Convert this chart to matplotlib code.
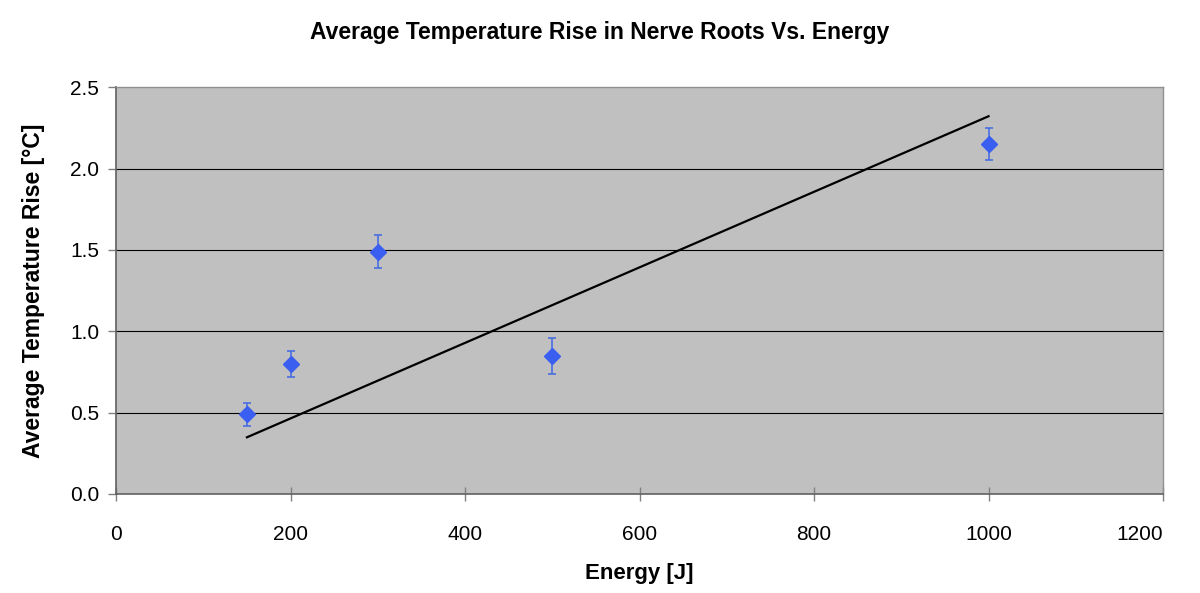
import numpy as np
import matplotlib
matplotlib.use("Agg")
import matplotlib.pyplot as plt

plt.rcParams['font.family'] = ['Liberation Sans', 'DejaVu Sans']

energy = [150, 200, 300, 500, 1000]
temp_rise = [0.49, 0.80, 1.49, 0.85, 2.15]
err = [0.07, 0.08, 0.10, 0.11, 0.10]
x_ticks = [0, 200, 400, 600, 800, 1000, 1200]
y_ticks = [0.0, 0.5, 1.0, 1.5, 2.0, 2.5]

fig = plt.figure(figsize=(12, 5.93), dpi=100)
ax = fig.add_axes([0.0967, 0.167, 0.8725, 0.686])
ax.set_facecolor('#c0c0c0')

for yt in y_ticks[1:-1]:
    ax.axhline(yt, color='black', lw=0.8, zorder=1)

# linear trendline through origin
xa = np.array(energy, float)
ya = np.array(temp_rise, float)
slope = (xa * ya).sum() / (xa * xa).sum()
xt = np.array([min(energy), max(energy)])
ax.plot(xt, slope * xt, color='black', lw=1.6, zorder=2)

ax.errorbar(energy, temp_rise, yerr=err, fmt='D', color='#3a5ff0', markersize=8.5,
            ecolor='#4a6ee0', elinewidth=1.2, capsize=3, capthick=1.2, zorder=3)

ax.set_xlim(0, 1200)
ax.set_ylim(0, 2.5)
ax.set_xticks(x_ticks)
ax.set_yticks(y_ticks)
ax.set_yticklabels([f"{v:.1f}" for v in y_ticks])
ax.tick_params(axis='x', direction='inout', length=10, width=1, color='#808080', labelsize=15, pad=17)
ax.tick_params(axis='y', direction='out', length=6, width=1, color='#808080', labelsize=15, pad=6)
ax.get_xticklabels()[-1].set_horizontalalignment('right')
for side in ['top', 'right']:
    ax.spines[side].set_color('#909090')
    ax.spines[side].set_linewidth(1)
for side in ['left', 'bottom']:
    ax.spines[side].set_color('#606060')
    ax.spines[side].set_linewidth(1.2)

ax.set_xlabel('Energy [J]', fontsize=16, fontweight='bold', labelpad=14)
ax.set_ylabel('Average Temperature Rise [°C]', fontsize=16.5, fontweight='bold', labelpad=18)
fig.suptitle('Average Temperature Rise in Nerve Roots Vs. Energy', fontsize=16.5,
             fontweight='bold', y=0.965)

fig.savefig('out.png', dpi=100, facecolor='white')
